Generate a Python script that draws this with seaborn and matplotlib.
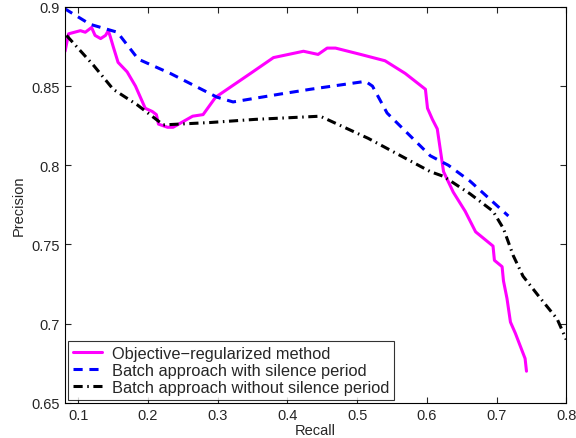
import pandas as pd
import seaborn as sns
import matplotlib.pyplot as plt

# Objective-regularized method (magenta, solid)
obj_recall = [0.081, 0.086, 0.103, 0.110, 0.119, 0.124, 0.132, 0.139, 0.143, 0.146,
              0.150, 0.157, 0.170, 0.182, 0.196, 0.206, 0.212, 0.215, 0.228, 0.236,
              0.264, 0.279, 0.297, 0.347, 0.380, 0.423, 0.444, 0.457, 0.469, 0.505,
              0.540, 0.569, 0.598, 0.601, 0.608, 0.615, 0.624, 0.638, 0.655, 0.670,
              0.695, 0.697, 0.708, 0.710, 0.715, 0.720, 0.727, 0.734, 0.741, 0.743]
obj_precision = [0.872, 0.883, 0.885, 0.884, 0.887, 0.882, 0.880, 0.882, 0.885, 0.881,
                 0.875, 0.865, 0.859, 0.850, 0.836, 0.834, 0.832, 0.826, 0.824, 0.824,
                 0.831, 0.832, 0.843, 0.858, 0.868, 0.872, 0.870, 0.874, 0.874, 0.870,
                 0.866, 0.858, 0.848, 0.836, 0.829, 0.823, 0.796, 0.783, 0.771, 0.758,
                 0.749, 0.740, 0.736, 0.727, 0.716, 0.701, 0.694, 0.686, 0.678, 0.670]

# Batch approach with silence period (blue, dashed)
sil_recall = [0.080, 0.117, 0.156, 0.186, 0.232, 0.299, 0.322, 0.390, 0.433, 0.512,
              0.522, 0.543, 0.605, 0.631, 0.662, 0.717]
sil_precision = [0.899, 0.889, 0.884, 0.867, 0.858, 0.843, 0.840, 0.845, 0.848, 0.853,
                 0.850, 0.833, 0.806, 0.800, 0.790, 0.768]

# Batch approach without silence period (black, dash-dot)
nosil_recall = [0.083, 0.122, 0.150, 0.185, 0.222, 0.289, 0.354, 0.447, 0.516, 0.605,
                0.624, 0.662, 0.695, 0.710, 0.724, 0.738, 0.763, 0.787, 0.800]
nosil_precision = [0.882, 0.863, 0.848, 0.838, 0.8255, 0.827, 0.829, 0.831, 0.817, 0.796,
                   0.793, 0.782, 0.771, 0.760, 0.743, 0.730, 0.716, 0.703, 0.690]

labels = ["Objective\u2212regularized method",
          "Batch approach with silence period",
          "Batch approach without silence period"]

sns.set_style("ticks")
plt.rcParams["font.family"] = ["Liberation Sans", "DejaVu Sans"]

fig = plt.figure(figsize=(5.76, 4.39), dpi=100)
ax = fig.add_axes([0.113, 0.080, 0.870, 0.902])

df_obj = pd.DataFrame({"Recall": obj_recall, "Precision": obj_precision})
df_sil = pd.DataFrame({"Recall": sil_recall, "Precision": sil_precision})
df_nosil = pd.DataFrame({"Recall": nosil_recall, "Precision": nosil_precision})

sns.lineplot(data=df_obj, x="Recall", y="Precision", sort=False, estimator=None,
             color="#ff00ff", linewidth=2.2, label=labels[0], ax=ax)
sns.lineplot(data=df_sil, x="Recall", y="Precision", sort=False, estimator=None,
             color="#0000ff", linewidth=2.2, linestyle=(0, (3, 2.2)), label=labels[1], ax=ax)
sns.lineplot(data=df_nosil, x="Recall", y="Precision", sort=False, estimator=None,
             color="black", linewidth=2.2, linestyle=(0, (3, 1.5, 0.5, 1.5)),
             label=labels[2], ax=ax)

ax.set_xlim(0.081, 0.8)
ax.set_ylim(0.65, 0.9)
ax.set_xticks([0.1, 0.2, 0.3, 0.4, 0.5, 0.6, 0.7, 0.8])
ax.set_xticklabels(["0.1", "0.2", "0.3", "0.4", "0.5", "0.6", "0.7", "0.8"])
ax.set_yticks([0.65, 0.7, 0.75, 0.8, 0.85, 0.9])
ax.set_yticklabels(["0.65", "0.7", "0.75", "0.8", "0.85", "0.9"])
ax.tick_params(direction="in", top=True, right=True, labelsize=10.5, length=4, width=0.8)
for sp in ax.spines.values():
    sp.set_visible(True)
    sp.set_color("black")
    sp.set_linewidth(0.8)
ax.set_xlabel("Recall", fontsize=10.5, labelpad=1)
ax.set_ylabel("Precision", fontsize=10.5, labelpad=4)

leg = ax.legend(loc="lower left", fontsize=11.8, frameon=True, fancybox=False,
                handlelength=1.75, borderaxespad=0.2, labelspacing=0.12,
                borderpad=0.3, handletextpad=0.6)
leg.get_frame().set_edgecolor("black")
leg.get_frame().set_linewidth(0.8)

plt.savefig("out.png", dpi=100)
